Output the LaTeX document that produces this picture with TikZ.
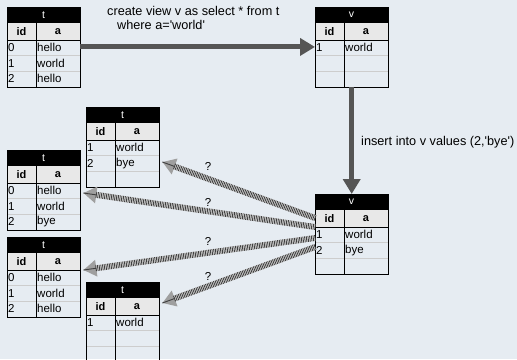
\documentclass[tikz,border=0pt]{standalone}
\usepackage{fontspec}
\setmainfont{Liberation Sans}
\usetikzlibrary{arrows.meta,calc,decorations.pathreplacing}

\definecolor{bgblue}{RGB}{230,236,242}
\definecolor{colgray}{RGB}{232,232,232}
\definecolor{rowgray}{RGB}{205,205,205}
\definecolor{arrowgray}{RGB}{85,85,85}

% one table: name, top left corner, title, data rows
\newcommand{\sqltab}[4]{%
  \node[tabframe] (#1) at (#2) {};
  \fill[black] (#1.north west) rectangle ++(73,16);
  \node[headtext] (#1-title) at ($(#1.north west)+(36.5,8)$) {#3};
  \fill[colgray] ($(#1.north west)+(0,16)$) rectangle ++(73,17);
  \node[colhead] (#1-id) at ($(#1.north west)+(14.5,24.5)$) {id};
  \node[colhead] (#1-a) at ($(#1.north west)+(51,24.5)$) {a};
  \foreach \k in {1,2}
    \draw[rowgray] ($(#1.north west)+(0,{33+15.5*\k})$) -- ++(73,0);
  \foreach \id/\val [count=\k] in {#4} {
    \node[cell] (#1-\k-id) at ($(#1.north west)+(0,{25.25+15.5*\k})$) {\id};
    \node[cell] (#1-\k-a) at ($(#1.north west)+(29,{25.25+15.5*\k})$) {\val};
  }
  \draw ($(#1.north west)+(0,33)$) -- ++(73,0);
  \draw ($(#1.north west)+(29,16)$) -- ($(#1.south west)+(29,0)$);
  \draw[line width=.8pt] (#1.north west) rectangle (#1.south east);
}

\begin{document}
\begin{tikzpicture}[x=1pt, y=-1pt,
  every node/.style={font=\fontsize{11.5}{13}\selectfont, inner sep=1pt},
  tabframe/.style={minimum width=73pt, minimum height=79.5pt, inner sep=0pt, anchor=north west},
  headtext/.style={text=white, font=\fontsize{10.5}{12}\selectfont},
  colhead/.style={font=\fontsize{11}{13}\selectfont\bfseries},
  cell/.style={anchor=west},
  flow/.style={line width=5pt, draw=arrowgray, -{Triangle[width=17pt,length=15pt]}},
  hatch/.style={line width=6pt, draw=white!90!gray,
    -{Triangle[width=16pt,length=13pt,color=gray!75]},
    postaction={draw=black!75, line width=.9pt, arrows=-, decorate,
      decoration={ticks, segment length=1.7pt, amplitude=3pt, post length=12pt}}},
  sqllabel/.style={font=\fontsize{12.7}{14}\selectfont, align=left},
  qmark/.style={font=\fontsize{11.5}{13}\selectfont}]

  \useasboundingbox (0,0) rectangle (517,359);
  \clip (0,0) rectangle (517,359);
  \fill[bgblue] (0,0) rectangle (517,359);

  \sqltab{t0}{7,7}{t}{0/hello,1/world,2/hello}
  \sqltab{v0}{315,7}{v}{1/world}
  \sqltab{tA}{86,107}{t}{1/world,2/bye}
  \sqltab{tB}{7,150}{t}{0/hello,1/world,2/bye}
  \sqltab{vB}{315,194}{v}{1/world,2/bye}
  \sqltab{tC}{7,237}{t}{0/hello,1/world,2/hello}
  \sqltab{tD}{86,282}{t}{1/world}

  \draw[flow] (t0.east) -- (t0.east -| v0.west);
  \node[sqllabel, anchor=north west] (create) at (106,5)
    {create view v as select * from t\\\hspace{10pt}where a=\textquotesingle world\textquotesingle};

  \draw[flow] (v0.south) -- (vB.north);
  \node[sqllabel, anchor=west] (insert) at (360,142)
    {insert into v values (2,\textquotesingle bye\textquotesingle)};

  \coordinate (from1) at ($(vB.north west)+(0,24)$);
  \coordinate (from2) at ($(vB.north west)+(0,33)$);
  \coordinate (from3) at ($(vB.north west)+(0,44)$);
  \coordinate (from4) at ($(vB.north west)+(0,53)$);
  \coordinate (to1) at ($(tA.north east)+(3,55)$);
  \coordinate (to2) at ($(tB.north east)+(3,43)$);
  \coordinate (to3) at ($(tC.north east)+(3,33)$);
  \coordinate (to4) at ($(tD.north east)+(3,21)$);

  \draw[hatch] (from1) -- (to1);
  \draw[hatch] (from2) -- (to2);
  \draw[hatch] (from3) -- (to3);
  \draw[hatch] (from4) -- (to4);

  \node[qmark] (ask1) at (208,166) {?};
  \node[qmark] (ask2) at (208,202) {?};
  \node[qmark] (ask3) at (208,241) {?};
  \node[qmark] (ask4) at (208,276) {?};

\end{tikzpicture}
\end{document}
